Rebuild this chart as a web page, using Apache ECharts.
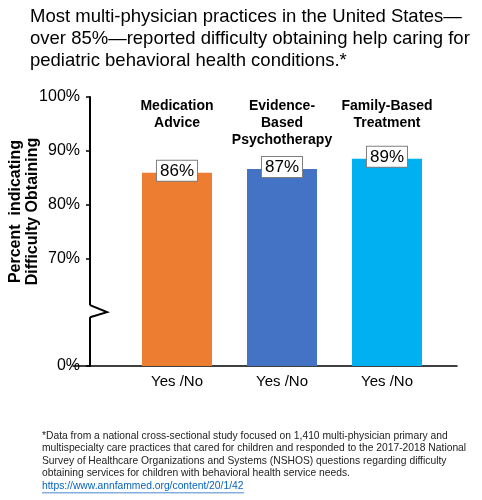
<!DOCTYPE html>
<html>
<head>
<meta charset="utf-8" />
<title>Difficulty obtaining behavioral health help</title>
<script src="https://cdn.jsdelivr.net/npm/echarts@6/dist/echarts.min.js"></script>
<style>
  html, body { margin: 0; padding: 0; background: #fff; }
  #chart { width: 482px; height: 500px; }
</style>
</head>
<body>
<div id="chart"></div>
<script type="text/javascript">
// data
var categories = ['Medication\nAdvice', 'Evidence-\nBased\nPsychotherapy', 'Family-Based\nTreatment'];
var bottomLabels = ['Yes /No', 'Yes /No', 'Yes /No'];
var values = [85.9, 86.6, 88.5];
var barColors = ['#ED7D31', '#4472C4', '#00B0F0'];
// axis: linear from 50 (drawn as 0%, axis is broken) to 100
var tickValues = [50, 70, 80, 90, 100];
var tickText = { 50: '0%', 70: '70%', 80: '80%', 90: '90%', 100: '100%' };
var breakAt = 60;

var FONT = '"Liberation Sans", Arial, sans-serif';
var footLines = [
  '*Data from a national cross-sectional study focused on 1,410 multi-physician primary and',
  'multispecialty care practices that cared for children and responded to the 2017-2018 National',
  'Survey of Healthcare Organizations and Systems (NSHOS) questions regarding difficulty',
  'obtaining services for children with behavioral health service needs.'
];
var link = 'https://www.annfammed.org/content/20/1/42';

var myChart = echarts.init(document.getElementById('chart'));
var option = {
  animation: false,
  textStyle: { fontFamily: FONT },
  title: {
    text: 'Most multi-physician practices in the United States\u2014\nover 85%\u2014reported difficulty obtaining help caring for\npediatric behavioral health conditions.*',
    left: 25, top: 1,
    textStyle: { fontFamily: FONT, fontSize: 18.5, fontWeight: 'normal', lineHeight: 22, color: '#000' }
  },
  grid: [
    { left: 124.5, right: 42.5, top: 97, bottom: 134, outerBoundsMode: 'none', containLabel: false },
    { left: 73, right: 25, top: 97, bottom: 134, outerBoundsMode: 'none', containLabel: false }
  ],
  xAxis: [
    {
      type: 'category', gridIndex: 0, data: bottomLabels,
      axisLine: { show: false }, axisTick: { show: false },
      axisLabel: { interval: 0, fontSize: 15, color: '#000', margin: 8, fontFamily: FONT }
    },
    {
      type: 'category', gridIndex: 1, data: [''],
      axisLine: { show: true, lineStyle: { color: '#000', width: 1.5 } },
      axisTick: { show: false }, axisLabel: { show: false }
    },
    {
      type: 'category', gridIndex: 0, position: 'top', data: categories,
      axisLine: { show: false }, axisTick: { show: false },
      axisLabel: { interval: 0, inside: true, margin: 1, fontSize: 14, fontWeight: 'bold', lineHeight: 17, color: '#000', fontFamily: FONT }
    }
  ],
  yAxis: [
    {
      type: 'value', gridIndex: 0, min: 50, max: 100, interval: 10, offset: 34.5,
      splitLine: { show: false },
      axisLine: { show: true, lineStyle: { color: '#000', width: 2 } },
      axisTick: { show: true, length: 4, customValues: tickValues, lineStyle: { color: '#000', width: 1.5 } },
      axisLabel: {
        customValues: tickValues, fontSize: 16, color: '#000', margin: 10, fontFamily: FONT,
        formatter: function (v) { return tickText[v] || ''; }
      },
      name: 'Percent  indicating\nDifficulty Obtaining',
      nameLocation: 'middle', nameGap: 49, nameRotate: 90, nameMoveOverlap: false,
      nameTextStyle: { fontSize: 16, fontWeight: 'bold', lineHeight: 17, color: '#000', fontFamily: FONT, padding: [0, 0, 0, 40] }
    },
    { type: 'value', gridIndex: 1, show: false, min: 0, max: 1 }
  ],
  series: [{
    type: 'bar', xAxisIndex: 0, yAxisIndex: 0, barWidth: 70,
    data: values.map(function (v, i) { return { value: v, itemStyle: { color: barColors[i] } }; }),
    label: {
      show: true, position: 'top', distance: -8,
      formatter: function (p) { return Math.round(p.value) + '%'; },
      fontSize: 17, color: '#000', fontFamily: FONT,
      backgroundColor: '#fff', borderColor: '#7f7f7f', borderWidth: 1,
      padding: [2, 3, 1, 3]
    }
  }],
  graphic: []
};
myChart.setOption(option);

// axis break mark, placed through the axis scale
var axisX = myChart.convertToPixel({ xAxisIndex: 0 }, 0) - 105 / 2 - 34.5;
var yb = myChart.convertToPixel({ yAxisIndex: 0 }, breakAt);
var footTop = 431;
var footStep = 12.5;
var footGraphics = footLines.map(function (t, i) {
  return { type: 'text', left: 42, top: footTop + i * footStep,
    style: { text: t, font: '10.3px ' + FONT, fill: '#222' } };
});
myChart.setOption({
  graphic: [
    { type: 'rect', shape: { x: axisX - 3, y: yb - 7, width: 6, height: 12 }, style: { fill: '#fff' }, z: 100 },
    { type: 'polyline', shape: { points: [[axisX, yb - 7], [axisX + 17, yb], [axisX, yb + 5]] },
      style: { stroke: '#000', lineWidth: 2, fill: null }, z: 101 }
  ].concat(footGraphics).concat([
    { type: 'text', left: 42, top: footTop + 4 * footStep, style: { text: link, font: '10.3px ' + FONT, fill: '#0563C1' } },
    { type: 'rect', shape: { x: 42, y: footTop + 4 * footStep + 11.5, width: 202, height: 0.8 }, style: { fill: '#0563C1' } }
  ])
});
</script>
</body>
</html>
